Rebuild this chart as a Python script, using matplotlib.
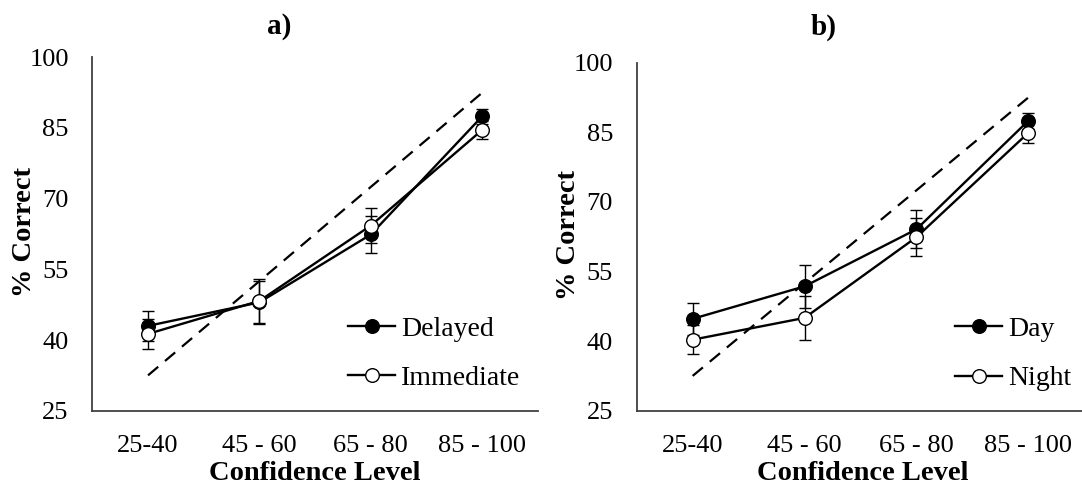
import matplotlib
matplotlib.use("Agg")
import matplotlib.pyplot as plt
import numpy as np

categories = ["25-40", "45 - 60", "65 - 80", "85 - 100"]
yticks = [25, 40, 55, 70, 85, 100]
calibration = [32.5, 52.5, 72.5, 92.5]

# Panel a)
delayed = [43.0, 48.0, 62.4, 87.5]
delayed_err = [3.2, 4.6, 3.9, 1.6]
immediate = [41.3, 48.3, 64.3, 84.6]
immediate_err = [3.2, 4.6, 3.7, 1.9]

# Panel b)
day = [44.8, 51.8, 64.1, 87.5]
day_err = [3.4, 4.7, 4.1, 1.7]
night = [40.3, 45.0, 62.4, 84.9]
night_err = [3.1, 4.7, 4.1, 2.3]

plt.rcParams['font.family'] = ['Liberation Serif', 'DejaVu Serif']

fig = plt.figure(figsize=(10.82, 4.95), dpi=100)
W, H = 1082, 495

def make_ax(left, right, top, bottom):
    return fig.add_axes([left / W, 1 - bottom / H, (right - left) / W, (bottom - top) / H])

ax1 = make_ax(92.3, 538.0, 57.3, 410.7)
ax2 = make_ax(636.7, 1084.3, 62.7, 410.7)

def draw(ax, s1, e1, l1, s2, e2, l2, leg_anchor):
    x = np.arange(len(categories))
    ax.plot(x, calibration, linestyle=(0, (6, 4)), color='black', lw=1.6, zorder=2)
    ax.errorbar(x, s1, yerr=e1, fmt='none', ecolor='black', elinewidth=1.0,
                capsize=4, capthick=1.0, zorder=2)
    ax.errorbar(x, s2, yerr=e2, fmt='none', ecolor='black', elinewidth=1.0,
                capsize=4, capthick=1.0, zorder=2)
    h1, = ax.plot(x, s1, color='black', lw=1.7, marker='o', markersize=9.8,
                  markerfacecolor='black', markeredgecolor='black', markeredgewidth=1.0,
                  zorder=3, label=l1)
    h2, = ax.plot(x, s2, color='black', lw=1.7, marker='o', markersize=9.8,
                  markerfacecolor='white', markeredgecolor='black', markeredgewidth=1.0,
                  zorder=4, label=l2)
    ax.set_xlim(-0.5, 3.5)
    ax.set_ylim(25, 100)
    ax.set_xticks(x)
    ax.set_xticklabels(categories)
    ax.set_yticks(yticks)
    ax.tick_params(axis='both', length=0, labelsize=19)
    ax.tick_params(axis='y', pad=17)
    ax.tick_params(axis='x', pad=17.5)
    for s in ['top', 'right']:
        ax.spines[s].set_visible(False)
    for s in ['left', 'bottom']:
        ax.spines[s].set_color('#404040')
        ax.spines[s].set_linewidth(1.3)
    leg = ax.legend(handles=[h1, h2], loc='upper left', bbox_to_anchor=leg_anchor,
                    frameon=False, fontsize=20, handlelength=1.7, handletextpad=0.2,
                    labelspacing=0.85, borderpad=0, borderaxespad=0, numpoints=1)
    return leg

draw(ax1, delayed, delayed_err, "Delayed", immediate, immediate_err, "Immediate", (0.574, 0.266))
draw(ax2, day, day_err, "Day", night, night_err, "Night", (0.711, 0.27))

# axis labels
ax1.text(-0.151, 0.5065, "% Correct", transform=ax1.transAxes, rotation=90,
         ha='center', va='center', fontsize=20.5, fontweight='bold')
ax2.text(-0.153, 0.505, "% Correct", transform=ax2.transAxes, rotation=90,
         ha='center', va='center', fontsize=20.5, fontweight='bold')
ax1.text(0.4997, -0.178, "Confidence Level", transform=ax1.transAxes,
         ha='center', va='center', fontsize=20.5, fontweight='bold')
ax2.text(0.506, -0.181, "Confidence Level", transform=ax2.transAxes,
         ha='center', va='center', fontsize=20.5, fontweight='bold')

fig.text(279 / W, 1 - 27 / H, "a)", ha='center', va='center', fontsize=21, fontweight='bold')
fig.text(824 / W, 1 - 27 / H, "b)", ha='center', va='center', fontsize=21, fontweight='bold')

fig.savefig("out.png", dpi=100)
